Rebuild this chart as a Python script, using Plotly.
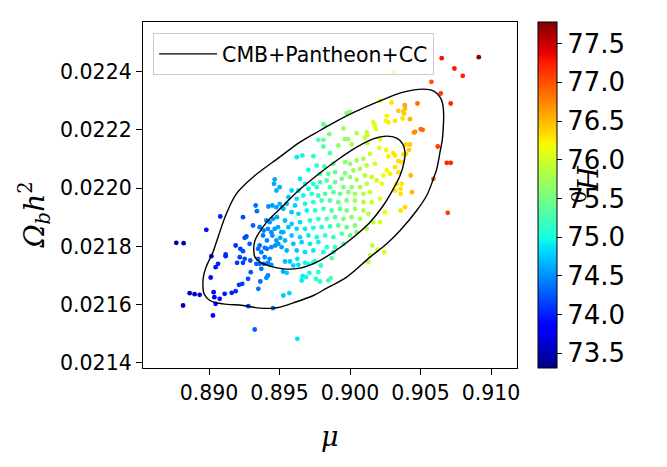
import plotly.graph_objects as go

# ---- MCMC samples: (mu, Omega_b h^2, H0) ----
samples_top_right = [
    (0.90913, 0.0224502, 77.75), (0.90650, 0.0224467, 77.3), (0.90740, 0.0224112, 77.25),
    (0.90799, 0.0223860, 77.25), (0.90577, 0.0223654, 77.0), (0.90643, 0.0223253, 77.1),
    (0.90714, 0.0222910, 77.2), (0.90478, 0.0222910, 76.85), (0.90388, 0.0222852, 76.6),
    (0.90390, 0.0222738, 76.5), (0.90378, 0.0222623, 76.45), (0.90383, 0.0222566, 76.4),
    (0.90373, 0.0222394, 76.3), (0.90425, 0.0222371, 76.55), (0.90312, 0.0223998, 76.4),
    (0.90295, 0.0222944, 76.3), (0.90213, 0.0223001, 76.1), (0.90343, 0.0222658, 76.4),
    (0.90260, 0.0222486, 76.2), (0.90255, 0.0222314, 76.2), (0.90272, 0.0222257, 76.25),
    (0.90319, 0.0222314, 76.3), (0.90461, 0.0221936, 76.8), (0.90501, 0.0222028, 76.85),
    (0.90515, 0.0222005, 76.9), (0.90454, 0.0221913, 76.7), (0.89976, 0.0222577, 75.6),
    (0.90000, 0.0222623, 75.65), (0.89811, 0.0222199, 75.45), (0.89823, 0.0222142, 75.45),
    (0.89853, 0.0221856, 75.5), (0.89953, 0.0222050, 75.75), (0.90047, 0.0221890, 75.85),
    (0.90118, 0.0221913, 75.95), (0.90123, 0.0221821, 75.95), (0.90165, 0.0222257, 76.05),
    (0.90177, 0.0222142, 76.05), (0.90184, 0.0222028, 76.1), (0.90106, 0.0221741, 75.95),
    (0.89965, 0.0221684, 75.6), (0.89988, 0.0221684, 75.7), (0.89775, 0.0221661, 75.3),
    (0.89811, 0.0221661, 75.4), (0.90213, 0.0221684, 76.1), (0.89662, 0.0221123, 74.95),
    (0.89622, 0.0221065, 74.9),
]

samples_right = [
    (0.90397, 0.0221501, 76.35), (0.90425, 0.0221501, 76.4), (0.90418, 0.0221317, 76.4),
    (0.90378, 0.0221157, 76.3), (0.90397, 0.0221180, 76.35), (0.90366, 0.0220893, 76.3),
    (0.90622, 0.0221432, 77.1), (0.90686, 0.0220871, 77.2), (0.90714, 0.0220871, 77.2),
    (0.90591, 0.0220321, 76.9), (0.90430, 0.0220435, 76.5), (0.90366, 0.0220149, 76.3),
    (0.90359, 0.0219977, 76.3), (0.90359, 0.0219805, 76.3), (0.90440, 0.0219863, 76.5),
    (0.90390, 0.0219347, 76.35), (0.90359, 0.0219233, 76.3), (0.90693, 0.0219152, 77.1),
]

samples_core = [
    (0.89917, 0.0221466, 75.6), (0.90012, 0.0221501, 75.75), (0.90123, 0.0221546, 75.95),
    (0.90208, 0.0221386, 76.1), (0.90255, 0.0221317, 76.2), (0.90307, 0.0221203, 76.3),
    (0.90272, 0.0221088, 76.25), (0.90319, 0.0221123, 76.3), (0.90343, 0.0220928, 76.35),
    (0.89740, 0.0221100, 75.1), (0.89858, 0.0221203, 75.35), (0.89811, 0.0221432, 75.3),
    (0.89705, 0.0220630, 75.0), (0.89764, 0.0220779, 75.15), (0.89818, 0.0220745, 75.25),
    (0.89882, 0.0220836, 75.45), (0.89965, 0.0220893, 75.6), (0.90000, 0.0220836, 75.65),
    (0.90047, 0.0220951, 75.75), (0.90095, 0.0221008, 75.85), (0.90142, 0.0221180, 75.95),
    (0.90118, 0.0220779, 75.9), (0.90177, 0.0220836, 76.0), (0.90024, 0.0220607, 75.7),
    (0.90071, 0.0220664, 75.8), (0.89965, 0.0220515, 75.6), (0.89894, 0.0220550, 75.45),
    (0.89846, 0.0220493, 75.35), (0.89787, 0.0220493, 75.2), (0.90260, 0.0220607, 76.2),
    (0.90284, 0.0220493, 76.25), (0.90236, 0.0220435, 76.15), (0.90319, 0.0220722, 76.3),
    (0.90343, 0.0220550, 76.35), (0.90331, 0.0220149, 76.3), (0.90319, 0.0219920, 76.3),
    (0.89645, 0.0220321, 74.9), (0.89681, 0.0220149, 74.95), (0.89740, 0.0220149, 75.05),
    (0.89787, 0.0220206, 75.15), (0.89835, 0.0220263, 75.3), (0.89894, 0.0220206, 75.4),
    (0.89941, 0.0220321, 75.5), (0.90000, 0.0220378, 75.65), (0.90047, 0.0220286, 75.75),
    (0.90106, 0.0220435, 75.85), (0.90154, 0.0220378, 75.95), (0.90189, 0.0220263, 76.0),
    (0.90225, 0.0220149, 76.1), (0.90118, 0.0220149, 75.9), (0.90071, 0.0220034, 75.8),
    (0.90012, 0.0220034, 75.65), (0.89953, 0.0220034, 75.5), (0.89858, 0.0220034, 75.3),
    (0.89764, 0.0220034, 75.1), (0.89705, 0.0219977, 74.95), (0.89634, 0.0219920, 74.9),
    (0.89586, 0.0219920, 74.8), (0.89563, 0.0219691, 74.75), (0.89622, 0.0219633, 74.85),
    (0.89669, 0.0219748, 74.95), (0.89728, 0.0219805, 75.05), (0.89775, 0.0219748, 75.15),
    (0.89823, 0.0219805, 75.25), (0.89882, 0.0219863, 75.35), (0.89929, 0.0219805, 75.45),
    (0.89988, 0.0219863, 75.6), (0.90035, 0.0219805, 75.7), (0.90095, 0.0219805, 75.85),
    (0.90142, 0.0219863, 75.95), (0.90213, 0.0219633, 76.05), (0.90154, 0.0219519, 75.95),
    (0.90095, 0.0219519, 75.85), (0.90035, 0.0219576, 75.7), (0.89976, 0.0219576, 75.55),
    (0.89917, 0.0219519, 75.45), (0.89858, 0.0219576, 75.3), (0.89799, 0.0219576, 75.2),
    (0.89740, 0.0219519, 75.1), (0.89681, 0.0219462, 74.95), (0.89610, 0.0219404, 74.8),
    (0.89551, 0.0219462, 74.7), (0.89527, 0.0219290, 74.65), (0.89586, 0.0219175, 74.75),
    (0.89634, 0.0219118, 74.85), (0.89693, 0.0219233, 74.95), (0.89752, 0.0219233, 75.05),
    (0.89811, 0.0219290, 75.2), (0.89870, 0.0219233, 75.3), (0.89929, 0.0219290, 75.4),
    (0.89976, 0.0219233, 75.5), (0.90035, 0.0219290, 75.65), (0.90095, 0.0219233, 75.8),
    (0.90130, 0.0219118, 75.85), (0.90071, 0.0218946, 75.75), (0.90012, 0.0219003, 75.6),
    (0.89953, 0.0218946, 75.5), (0.89894, 0.0219003, 75.35), (0.89835, 0.0218946, 75.25),
    (0.89775, 0.0218946, 75.1), (0.89716, 0.0218889, 75.0), (0.89645, 0.0218832, 74.85),
    (0.89586, 0.0218774, 74.75), (0.89539, 0.0218889, 74.7), (0.89563, 0.0218660, 74.7),
    (0.89622, 0.0218602, 74.8), (0.89681, 0.0218602, 74.9), (0.89740, 0.0218637, 75.0),
    (0.89799, 0.0218660, 75.1), (0.89858, 0.0218683, 75.2), (0.89917, 0.0218717, 75.35),
    (0.89976, 0.0218660, 75.45), (0.90035, 0.0218717, 75.55), (0.89527, 0.0218488, 74.65),
    (0.89586, 0.0218373, 74.75), (0.89645, 0.0218316, 74.8), (0.89705, 0.0218373, 74.9),
    (0.89764, 0.0218316, 75.0), (0.89823, 0.0218373, 75.1), (0.89882, 0.0218316, 75.2),
    (0.89941, 0.0218431, 75.3), (0.90000, 0.0218373, 75.45), (0.90047, 0.0218488, 75.55),
    (0.89539, 0.0218202, 74.65), (0.89598, 0.0218087, 74.7), (0.89657, 0.0218144, 74.8),
    (0.89716, 0.0218087, 74.9), (0.89775, 0.0218144, 74.95), (0.89835, 0.0217972, 75.05),
    (0.89894, 0.0217972, 75.15), (0.89953, 0.0218087, 75.25), (0.89551, 0.0217858, 74.65),
    (0.89622, 0.0217858, 74.75), (0.89681, 0.0217801, 74.85), (0.89740, 0.0217858, 74.9),
    (0.89811, 0.0217801, 75.0), (0.89882, 0.0217801, 75.1), (0.89515, 0.0217972, 74.6),
    (0.90142, 0.0217686, 75.85), (0.90194, 0.0217881, 76.0), (0.90243, 0.0217801, 76.05),
    (0.90158, 0.0218030, 75.9), (0.90118, 0.0218602, 75.8), (0.90165, 0.0218832, 75.9),
    (0.90213, 0.0218832, 76.0), (0.90248, 0.0219175, 76.1),
]

samples_lower = [
    (0.89539, 0.0217480, 74.7), (0.89574, 0.0217480, 74.75), (0.89626, 0.0217572, 74.85),
    (0.89598, 0.0217342, 74.8), (0.89634, 0.0217365, 74.85), (0.89681, 0.0217434, 74.95),
    (0.89705, 0.0217400, 75.0), (0.89740, 0.0217457, 75.05), (0.89752, 0.0217480, 75.05),
    (0.89792, 0.0217342, 75.1), (0.89551, 0.0217090, 74.75), (0.89712, 0.0217090, 75.0),
    (0.89664, 0.0216976, 74.9), (0.89688, 0.0216942, 74.95), (0.89657, 0.0216827, 74.9),
    (0.89759, 0.0216884, 75.05), (0.89787, 0.0216793, 75.1), (0.89775, 0.0217113, 75.1),
    (0.89846, 0.0216827, 75.25), (0.89863, 0.0216907, 75.3), (0.89870, 0.0217594, 75.35),
    (0.90130, 0.0217457, 75.9), (0.89527, 0.0216311, 74.75), (0.89570, 0.0216392, 74.8),
    (0.89626, 0.0214822, 74.85),
]

samples_left_upper = [
    (0.89466, 0.0220298, 74.6), (0.89461, 0.0220149, 74.6), (0.89478, 0.0219920, 74.65),
    (0.89501, 0.0220034, 74.65), (0.89449, 0.0219404, 74.55), (0.89421, 0.0219370, 74.5),
    (0.89478, 0.0219347, 74.6), (0.89501, 0.0219462, 74.65), (0.89520, 0.0219347, 74.65),
    (0.89331, 0.0219404, 74.35), (0.89340, 0.0219210, 74.35), (0.89241, 0.0219003, 74.2),
    (0.89080, 0.0219026, 74.0), (0.88981, 0.0218568, 73.9), (0.89312, 0.0218717, 74.3),
    (0.89359, 0.0218660, 74.4), (0.89388, 0.0218545, 74.45), (0.89418, 0.0218602, 74.5),
    (0.89442, 0.0218488, 74.5), (0.89466, 0.0218602, 74.55), (0.89489, 0.0218660, 74.6),
    (0.89513, 0.0218488, 74.6), (0.89449, 0.0218373, 74.5), (0.89478, 0.0218202, 74.55),
    (0.89506, 0.0218293, 74.6), (0.89492, 0.0218087, 74.55), (0.89470, 0.0218030, 74.5),
    (0.89442, 0.0217972, 74.45), (0.89411, 0.0217915, 74.4), (0.89395, 0.0217950, 74.4),
    (0.89359, 0.0218030, 74.35), (0.89348, 0.0217915, 74.35), (0.89371, 0.0217801, 74.4),
    (0.89288, 0.0218087, 74.25), (0.89253, 0.0218293, 74.2), (0.89265, 0.0218339, 74.2),
    (0.89189, 0.0218030, 74.1), (0.89222, 0.0217915, 74.15), (0.89241, 0.0217835, 74.2),
    (0.88768, 0.0218121, 73.4), (0.88820, 0.0218110, 73.5), (0.89118, 0.0217720, 74.0),
    (0.89430, 0.0218832, 74.5), (0.89407, 0.0218889, 74.45), (0.89454, 0.0218946, 74.55),
    (0.89482, 0.0219003, 74.6), (0.89383, 0.0218373, 74.4), (0.89411, 0.0218202, 74.45),
]

samples_left_lower = [
    (0.89017, 0.0217663, 73.95), (0.89118, 0.0217663, 74.05), (0.89218, 0.0217629, 74.15),
    (0.89253, 0.0217572, 74.2), (0.89293, 0.0217514, 74.25), (0.89348, 0.0217572, 74.35),
    (0.89395, 0.0217629, 74.4), (0.89430, 0.0217572, 74.45), (0.89064, 0.0217400, 74.0),
    (0.89047, 0.0217285, 73.95), (0.89199, 0.0217434, 74.1), (0.89241, 0.0217434, 74.15),
    (0.89336, 0.0217400, 74.3), (0.89359, 0.0217400, 74.35), (0.89388, 0.0217400, 74.4),
    (0.89418, 0.0217434, 74.45), (0.89442, 0.0217365, 74.5), (0.89296, 0.0217113, 74.25),
    (0.89371, 0.0217228, 74.35), (0.89418, 0.0216999, 74.45), (0.89407, 0.0216919, 74.45),
    (0.89364, 0.0216793, 74.35), (0.89012, 0.0216930, 73.9), (0.89277, 0.0216884, 74.2),
    (0.89236, 0.0216712, 74.15), (0.89213, 0.0216678, 74.1), (0.89189, 0.0216460, 74.05),
    (0.89161, 0.0216403, 74.0), (0.89111, 0.0216369, 73.95), (0.89033, 0.0216426, 73.85),
    (0.89038, 0.0216254, 73.85), (0.89076, 0.0216197, 73.9), (0.89047, 0.0216025, 73.85),
    (0.88863, 0.0216392, 73.6), (0.88898, 0.0216357, 73.6), (0.88934, 0.0216334, 73.65),
    (0.88816, 0.0215968, 73.5), (0.89028, 0.0215624, 73.8), (0.89350, 0.0216541, 74.35),
    (0.89279, 0.0215945, 74.2), (0.89454, 0.0215876, 74.45), (0.89324, 0.0215143, 74.3),
    (0.89525, 0.0217136, 74.65),
]

# ---- confidence contours ----
outer_mu = [0.90520, 0.90591, 0.90638, 0.90657, 0.90664, 0.90662, 0.90655, 0.90638, 0.90615,
            0.90591, 0.90544, 0.90473, 0.90355, 0.90260, 0.90142, 0.89976, 0.89835, 0.89740,
            0.89598, 0.89504, 0.89454, 0.89362, 0.89241, 0.89099, 0.89005, 0.88965, 0.88957,
            0.88962, 0.88979, 0.89000, 0.89028, 0.89064, 0.89123, 0.89194, 0.89312, 0.89501,
            0.89645, 0.89787, 0.89976, 0.90213, 0.90378, 0.90520]
outer_omb = [0.0223402, 0.0223345, 0.0223127, 0.0222898, 0.0222497, 0.0222154, 0.0221695,
             0.0221237, 0.0220664, 0.0220321, 0.0219748, 0.0219233, 0.0218545, 0.0218087,
             0.0217629, 0.0216942, 0.0216563, 0.0216311, 0.0216059, 0.0215911, 0.0215876,
             0.0215876, 0.0215968, 0.0216025, 0.0216140, 0.0216369, 0.0216598, 0.0216999,
             0.0217285, 0.0217514, 0.0217801, 0.0218316, 0.0219118, 0.0219805, 0.0220378,
             0.0221065, 0.0221581, 0.0221982, 0.0222486, 0.0223001, 0.0223299, 0.0223402]
inner_mu = [0.90260, 0.90331, 0.90373, 0.90390, 0.90383, 0.90355, 0.90307, 0.90236, 0.90142,
            0.90024, 0.89882, 0.89764, 0.89645, 0.89527, 0.89433, 0.89362, 0.89326, 0.89317,
            0.89326, 0.89350, 0.89409, 0.89504, 0.89622, 0.89764, 0.89905, 0.90047, 0.90165,
            0.90260]
inner_omb = [0.0221787, 0.0221718, 0.0221524, 0.0221237, 0.0220893, 0.0220435, 0.0219977,
             0.0219404, 0.0218832, 0.0218316, 0.0217801, 0.0217457, 0.0217251, 0.0217228,
             0.0217320, 0.0217457, 0.0217629, 0.0217915, 0.0218202, 0.0218431, 0.0218832,
             0.0219290, 0.0219863, 0.0220435, 0.0220951, 0.0221409, 0.0221695, 0.0221787]

x_ticks = [0.890, 0.895, 0.900, 0.905, 0.910]
y_ticks = [0.0214, 0.0216, 0.0218, 0.0220, 0.0222, 0.0224]
cb_ticks = [73.5, 74.0, 74.5, 75.0, 75.5, 76.0, 76.5, 77.0, 77.5]
legend_label = "CMB+Pantheon+CC"

groups = [samples_top_right, samples_right, samples_core, samples_lower,
          samples_left_upper, samples_left_lower]
mu = [p[0] for g in groups for p in g]
omb = [p[1] for g in groups for p in g]
h0 = [p[2] for g in groups for p in g]

# matplotlib "jet"
jet = [
    [0.0, "rgb(0,0,128)"], [0.11, "rgb(0,0,255)"], [0.125, "rgb(0,0,255)"],
    [0.34, "rgb(0,219,255)"], [0.35, "rgb(0,230,247)"], [0.375, "rgb(21,255,226)"],
    [0.64, "rgb(239,255,8)"], [0.65, "rgb(247,245,0)"], [0.66, "rgb(255,236,0)"],
    [0.89, "rgb(255,19,0)"], [0.91, "rgb(232,0,0)"], [1.0, "rgb(128,0,0)"],
]

tick_font = dict(family="DejaVu Sans", size=20.5, color="black")

fig = go.Figure()
fig.add_trace(go.Scatter(
    x=mu, y=omb, mode="markers", showlegend=False, hoverinfo="skip",
    marker=dict(size=4.8, color=h0, colorscale=jet, cmin=73.31, cmax=77.78,
                line=dict(width=0),
                colorbar=dict(
                    x=1.056, xanchor="left", y=0.5, yanchor="middle",
                    len=1.0, lenmode="fraction", thickness=19, thicknessmode="pixels",
                    outlinecolor="black", outlinewidth=1,
                    tickvals=cb_ticks, ticktext=["%.1f" % v for v in cb_ticks],
                    ticks="outside", ticklen=5, tickcolor="black", tickwidth=1,
                    tickfont=dict(family="DejaVu Sans", size=26, color="black"),
                    xpad=0, ypad=0)),
))
fig.add_trace(go.Scatter(
    x=outer_mu, y=outer_omb, mode="lines", name=legend_label, legendgroup="c",
    line=dict(color="black", width=1.4, shape="spline", smoothing=1.0), hoverinfo="skip"))
fig.add_trace(go.Scatter(
    x=inner_mu, y=inner_omb, mode="lines", showlegend=False, legendgroup="c",
    line=dict(color="black", width=1.4, shape="spline", smoothing=1.0), hoverinfo="skip"))

axis_common = dict(showline=True, linecolor="black", linewidth=1.3, mirror=True,
                   ticks="outside", ticklen=6, tickcolor="black", tickwidth=1.2,
                   showgrid=False, zeroline=False, tickfont=tick_font, automargin=False)

fig.update_xaxes(range=[0.88532, 0.91184], tickvals=x_ticks,
                 ticktext=["%.3f" % v for v in x_ticks], **axis_common)
fig.update_yaxes(range=[0.021382, 0.022571], tickvals=y_ticks,
                 ticktext=["%.4f" % v for v in y_ticks], **axis_common)

fig.update_layout(
    width=667, height=467,
    margin=dict(l=143, r=150, t=22, b=99, autoexpand=False),
    paper_bgcolor="white", plot_bgcolor="white",
    showlegend=True,
    legend=dict(x=0.027, y=0.968, xanchor="left", yanchor="top",
                bgcolor="rgba(255,255,255,0.8)", bordercolor="#cccccc", borderwidth=1,
                font=dict(family="DejaVu Sans", size=20.5, color="black"),
                itemwidth=58),
    annotations=[
        dict(text="<i>μ</i>", xref="paper", yref="paper", x=0.5, y=-0.199,
             xanchor="center", yanchor="middle", showarrow=False,
             font=dict(family="DejaVu Serif", size=27, color="black")),
        dict(text="<i>Ω<sub>b</sub>h</i><sup>2</sup>", xref="paper", yref="paper",
             x=-0.29, y=0.442, xanchor="center", yanchor="middle", showarrow=False,
             textangle=-90, font=dict(family="DejaVu Serif", size=28, color="black")),
        dict(text="<i>H</i><sub>0</sub>", xref="paper", yref="paper",
             x=1.18, y=0.53, xanchor="center", yanchor="middle", showarrow=False,
             textangle=90, font=dict(family="DejaVu Serif", size=28, color="black")),
    ],
)

fig.write_html("out.html")
